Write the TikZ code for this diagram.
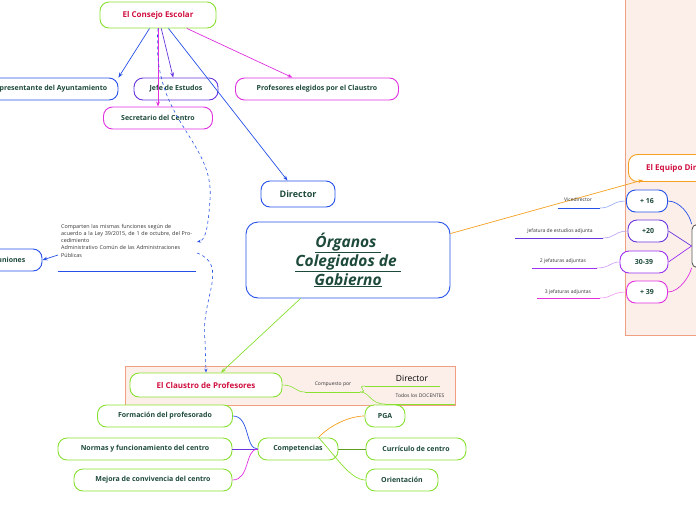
\documentclass[tikz,border=0pt]{standalone}
\usepackage{fontspec}
\setmainfont{Open Sans}
\usetikzlibrary{arrows.meta}
\definecolor{cb}{HTML}{2550E8}
\definecolor{cp}{HTML}{6A35E0}
\definecolor{cv}{HTML}{9B30F0}
\definecolor{cmag}{HTML}{E030E0}
\definecolor{cg}{HTML}{88E030}
\definecolor{co}{HTML}{F5A020}
\definecolor{cr}{HTML}{D01040}
\definecolor{ct}{HTML}{1D4A3A}
\definecolor{sal}{HTML}{F0A080}
\definecolor{pnk}{HTML}{FCEFEA}
\begin{document}
\begin{tikzpicture}[x=1pt,y=-1pt,
 box/.style={draw=#1,rounded corners=9pt,line width=0.9pt,fill=white,text=ct,font=\fontsize{7}{8}\selectfont\bfseries,inner sep=0pt},
 lab/.style={font=\fontsize{5}{6}\selectfont,text=black!80,inner sep=1pt},
 con/.style={draw=#1,line width=0.7pt},
 arr/.style={draw=#1,line width=0.7pt,-{Stealth[length=5pt]}}]
\useasboundingbox (0,0) rectangle (696,520);
% panels
\fill[pnk] (625,0) rectangle (700,335); \draw[sal,line width=0.8pt] (625,-2) -- (625,335) -- (700,335);
\filldraw[fill=pnk,draw=sal,line width=0.8pt] (125,366) rectangle (455,405);
% top nodes
\node[box=cg,text=cr,minimum width=116pt,minimum height=26pt,font=\fontsize{8}{9}\selectfont\bfseries] (ce) at (158,15) {El Consejo Escolar};
\node[box=cb,minimum width=138pt,minimum height=22pt] (ra) at (49,89) {Representante del Ayuntamiento};
\node[box=cp,minimum width=84pt,minimum height=22pt] (je) at (176,89) {Jefe de Estudos};
\node[box=cmag,minimum width=109pt,minimum height=22pt] (se) at (158,118) {Secretario del Centro};
\node[box=cmag,minimum width=163pt,minimum height=22pt] (pe) at (317,89) {Profesores elegidos por el Claustro};
\node[box=cb,minimum width=74pt,minimum height=26pt,font=\fontsize{9}{10}\selectfont\bfseries] (di) at (298,194) {Director};
\draw[arr=cb] (ce) -- (ra.north east);
\draw[arr=cp] (ce) -- (je);
\draw[arr=cmag] (ce) -- (se);
\draw[arr=cmag] (ce) -- (pe);
\draw[arr=cb] (ce) -- (di);
% central
\node[draw=cb,rounded corners=12pt,line width=0.9pt,fill=white,minimum width=204pt,minimum height=76pt,align=center,text=ct,font=\fontsize{15.5}{19}\selectfont\bfseries\itshape] (og) at (348,260) {\underline{Órganos }\\\underline{Colegiados de }\\\underline{Gobierno}};
% reuniones
\node[box=cb,minimum width=90pt,minimum height=22pt] (re) at (-3,260) {\hspace{20pt}Reuniones};
\node[lab,align=left,anchor=north west,text width=132pt,font=\fontsize{5.4}{7.2}\selectfont] (tx) at (60,223) {Comparten las mismas funciones según de acuerdo a la Ley 39/2015, de 1 de octubre, del Procedimiento\\Administrativo Común de las Administraciones Públicas};
\coordinate (u1) at (58,271); \coordinate (u2) at (196,271);
\draw[cb,line width=1pt] (u1) -- (u2);
\coordinate (t1) at (197,242); \coordinate (t2) at (197,253);
\coordinate (u0) at (58,255);
\draw[arr=cb] (u0) -- (re.east);
% claustro
\node[box=cg,text=cr,minimum width=152pt,minimum height=24pt,font=\fontsize{8}{9}\selectfont\bfseries] (cl) at (206,385) {El Claustro de Profesores};
\draw[cb,dashed,line width=0.6pt,-{Stealth[length=4pt]}] (ce.south) .. controls (150,120) and (215,140) .. (210,200) .. controls (208,230) and (205,240) .. (t1);
\draw[cb,dashed,line width=0.6pt,-{Stealth[length=4pt]}] (t2) .. controls (230,265) and (200,300) .. (205,340) -- (cl.north);
\draw[arr=cg] (og.south west) ++(55,0) -- ([xshift=15pt]cl.north);
\node[lab] (cp1) at (333,384) {Compuesto por};
\coordinate (a1) at (305,392); \coordinate (a2) at (360,392);
\draw[cg,line width=1pt] (a1) -- (a2);
\draw[cg,line width=0.6pt] (cl.east) .. controls (295,385) and (295,392) .. (a1);
\node[font=\fontsize{8.5}{9}\selectfont,inner sep=1pt] (d2) at (412,378) {Director};
\coordinate (b1) at (365,386); \coordinate (b2) at (440,386);
\draw[cg,line width=1pt] (b1) -- (b2);
\node[lab] (td) at (420,396) {Todos los DOCENTES};
\coordinate (c1) at (385,404); \coordinate (c2) at (455,404);
\draw[cg,line width=1pt] (c1) -- (c2);
\draw[cg,line width=0.6pt] (a2) .. controls (370,392) and (355,386) .. (b1);
\draw[cg,line width=0.6pt] (a2) .. controls (370,392) and (370,404) .. (c1);
% competencias
\node[box=cg,minimum width=80pt,minimum height=22pt] (cm) at (298,449) {Competencias};
\node[box=cg,minimum width=135pt,minimum height=22pt] (f1) at (165,416) {Formación del profesorado};
\node[box=cg,minimum width=174pt,minimum height=22pt] (f2) at (145,449) {Normas y funcionamiento del centro};
\node[box=cg,minimum width=158pt,minimum height=22pt] (f3) at (153,480) {Mejora de convivencia del centro};
\node[box=cg,minimum width=40pt,minimum height=22pt] (g1) at (385,416) {PGA};
\node[box=cg,minimum width=100pt,minimum height=22pt] (g2) at (416,449) {Currículo de centro};
\node[box=cg,minimum width=72pt,minimum height=22pt] (g3) at (402,480) {Orientación};
\draw[con=cb] (cm.west) .. controls (245,449) and (250,416) .. (f1.east);
\draw[con=cp] (cm.west) -- (f2.east);
\draw[con=cmag] (cm.west) .. controls (245,449) and (250,480) .. (f3.east);
\draw[con=co] (cm.north east) ++(-20,0) .. controls (330,425) and (350,416) .. (g1.west);
\draw[con=cg!70!black] (cm.east) -- (g2.west);
\draw[con=cg] (cm.north east) ++(-20,0) .. controls (335,455) and (350,480) .. (g3.west);
% equipo directivo
\node[box=co,text=cr,minimum width=110pt,minimum height=27pt,anchor=west,font=\fontsize{8}{9}\selectfont\bfseries] (ed) at (628,168) {El Equipo Directivo};
\draw[arr=co] (og.north east) ++(0,12) -- (643,180);
\node[draw=gray!70!black,rounded corners=5pt,line width=0.9pt,fill=white,minimum width=20pt,minimum height=43pt] (gb) at (702,246) {};
\node[box=cb,minimum width=41pt,minimum height=22pt] (n1) at (647,201) {+ 16};
\node[box=cp,minimum width=40pt,minimum height=22pt] (n2) at (648,231) {+20};
\node[box=cv,minimum width=48pt,minimum height=22pt] (n3) at (644,262) {30-39};
\node[box=cmag,minimum width=41pt,minimum height=22pt] (n4) at (647,292) {+ 39};
\draw[con=cb] (n1.east) .. controls (680,201) and (690,215) .. (gb.north west);
\draw[con=cp] (n2.east) -- (gb.west);
\draw[con=cv] (n3.east) -- (gb.west);
\draw[con=cmag] (n4.east) .. controls (680,292) and (690,275) .. (gb.south west);
\node[lab] (l1) at (578,200) {Vicedirector};
\node[lab] (l2) at (560,231) {Jefatura de estudios adjunta};
\node[lab] (l3) at (563,261) {2 jefaturas adjuntas};
\node[lab] (l4) at (568,292) {3 jefaturas adjuntas};
\coordinate (p1) at (558,208); \coordinate (q1) at (600,208);
\coordinate (p2) at (515,238); \coordinate (q2) at (603,238);
\coordinate (p3) at (532,268); \coordinate (q3) at (597,268);
\coordinate (p4) at (537,298); \coordinate (q4) at (600,298);
\draw[cb,line width=1pt] (p1) -- (q1);
\draw[cp,line width=1pt] (p2) -- (q2);
\draw[cv,line width=1pt] (p3) -- (q3);
\draw[cmag,line width=1pt] (p4) -- (q4);
\draw[cb!50,line width=0.6pt] (q1) .. controls (612,208) and (612,201) .. (n1.west);
\draw[cp!50,line width=0.6pt] (q2) .. controls (615,238) and (615,231) .. (n2.west);
\draw[cv!50,line width=0.6pt] (q3) .. controls (610,268) and (610,262) .. (n3.west);
\draw[cmag!50,line width=0.6pt] (q4) .. controls (612,298) and (612,292) .. (n4.west);
\end{tikzpicture}
\end{document}
